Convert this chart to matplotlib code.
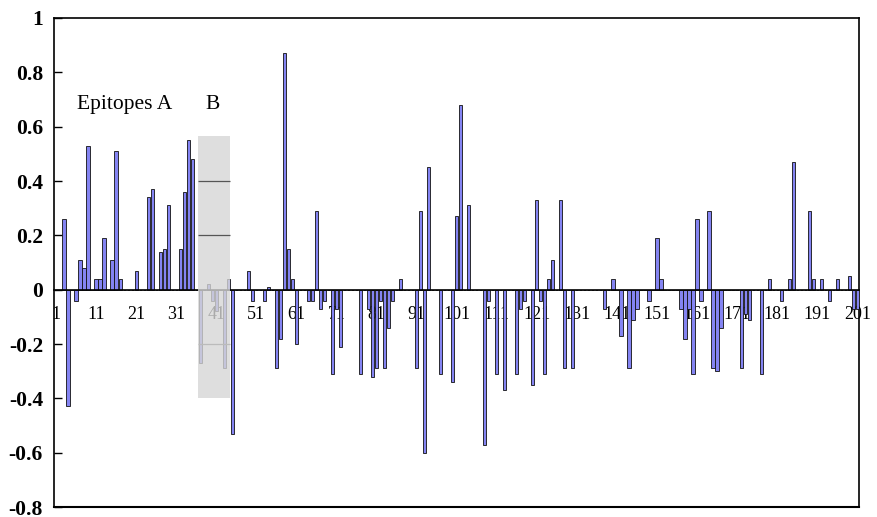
import numpy as np
import matplotlib
matplotlib.use("Agg")
import matplotlib.pyplot as plt
from matplotlib.patches import Rectangle

plt.rcParams['font.family'] = ['Liberation Serif', 'DejaVu Serif']
plt.rcParams['axes.unicode_minus'] = False

# --- data (score per residue, 1..201) ---
residues = np.arange(1, 202)
scores = [
    0, 0, 0.26, -0.43, 0, -0.04, 0.11, 0.08, 0.53, 0,            # 1-10
    0.04, 0.04, 0.19, 0, 0.11, 0.51, 0.04, 0, 0, 0,              # 11-20
    0.07, 0, 0, 0.34, 0.37, 0, 0.14, 0.15, 0.31, 0,              # 21-30
    0, 0.15, 0.36, 0.55, 0.48, 0, -0.27, 0, 0.02, -0.04,         # 31-40
    -0.08, 0, -0.29, 0.04, -0.53, 0, 0, 0, 0.07, -0.04,          # 41-50
    0, 0, -0.04, 0.01, 0, -0.29, -0.18, 0.87, 0.15, 0.04,        # 51-60
    -0.20, 0, 0, -0.04, -0.04, 0.29, -0.07, -0.04, 0, -0.31,     # 61-70
    -0.07, -0.21, 0, 0, 0, 0, -0.31, 0, -0.07, -0.32,            # 71-80
    -0.29, -0.04, -0.29, -0.14, -0.04, 0, 0.04, 0, 0, 0,         # 81-90
    -0.29, 0.29, -0.60, 0.45, 0, 0, -0.31, 0, 0, -0.34,          # 91-100
    0.27, 0.68, 0, 0.31, 0, 0, 0, -0.57, -0.04, 0,               # 101-110
    -0.31, 0, -0.37, 0, 0, -0.31, -0.07, -0.04, 0, -0.35,        # 111-120
    0.33, -0.04, -0.31, 0.04, 0.11, 0, 0.33, -0.29, 0, -0.29,    # 121-130
    0, 0, 0, 0, 0, 0, 0, -0.07, 0, 0.04,                         # 131-140
    0, -0.17, 0, -0.29, -0.11, -0.07, 0, 0, -0.04, 0,            # 141-150
    0.19, 0.04, 0, 0, 0, 0, -0.07, -0.18, -0.07, -0.31,          # 151-160
    0.26, -0.04, 0, 0.29, -0.29, -0.30, -0.14, 0, 0, 0,          # 161-170
    0, -0.29, -0.09, -0.11, 0, 0, -0.31, 0, 0.04, 0,             # 171-180
    0, -0.04, 0, 0.04, 0.47, 0, 0, 0, 0.29, 0.04,                # 181-190
    0, 0.04, 0, -0.04, 0, 0.04, 0, 0, 0.05, -0.07,               # 191-200
    -0.07,                                                       # 201
]
xtick_labels = [str(i) for i in range(1, 202, 10)]
ytick_values = [-0.8, -0.6, -0.4, -0.2, 0, 0.2, 0.4, 0.6, 0.8, 1]
ytick_labels = ['-0.8', '-0.6', '-0.4', '-0.2', '0', '0.2', '0.4', '0.6', '0.8', '1']

# epitope B box (residues / score range) and its inner lines
box_x = (36.4, 44.4)
box_y = (-0.4, 0.567)
box_lines = [0.4, 0.2]
box_light_lines = [-0.2]

fig = plt.figure(figsize=(8.78, 5.17), dpi=100)
ax = fig.add_axes([0.0615, 0.0193, 0.9172, 0.9459])

ax.bar(residues, scores, width=0.8, color='#8484f2', edgecolor='#111111',
       linewidth=0.6, zorder=3)

ax.set_xlim(0.5, 201.5)
ax.set_ylim(-0.8, 1)

# x axis sits on zero, frame is still closed at the bottom
ax.spines['bottom'].set_position(('data', 0))
ax.spines['bottom'].set_linewidth(1.2)
ax.spines['bottom'].set_zorder(3.5)
ax.axhline(-0.8, color='black', lw=1.5, clip_on=False, zorder=5)
for s in ['left', 'right', 'top']:
    ax.spines[s].set_linewidth(1.2)

ax.set_xticks(range(1, 202, 10))
ax.set_xticklabels(xtick_labels, fontsize=13)
ax.tick_params(axis='x', length=0, pad=12)

ax.set_yticks(ytick_values)
ax.set_yticklabels(ytick_labels, fontsize=15.5, fontweight='bold')
ax.tick_params(axis='y', direction='in', length=6, width=1, pad=8)

# shaded epitope B region, drawn over the bars
ax.add_patch(Rectangle((box_x[0], box_y[0]), box_x[1] - box_x[0], box_y[1] - box_y[0],
                       facecolor='#d6d6d6', edgecolor='none', alpha=0.8, zorder=4))
ax.hlines(box_lines, box_x[0], box_x[1], color='#555555', lw=0.9, zorder=4.5)
ax.hlines(box_light_lines, box_x[0], box_x[1], color='#bbbbbb', lw=0.9, zorder=4.5)

ax.text(6.2, 0.68, 'Epitopes A', fontsize=15.5, va='center', ha='left')
ax.text(40.2, 0.68, 'B', fontsize=15.5, va='center', ha='center')

fig.savefig('out.png', dpi=100)
